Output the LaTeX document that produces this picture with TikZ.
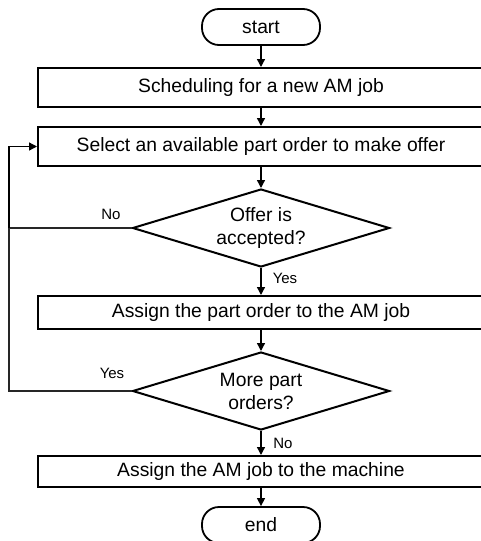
\documentclass[tikz,border=0pt]{standalone}
\usepackage{fontspec}
\setmainfont{Liberation Sans}
\usetikzlibrary{shapes.geometric,arrows.meta}
\begin{document}
\begin{tikzpicture}[x=1pt,y=-1pt,
  box/.style={draw,line width=2pt,rectangle,minimum width=446pt,inner sep=0pt,font=\fontsize{19.3}{22}\selectfont},
  term/.style={draw,line width=1.8pt,rectangle,rounded corners=17pt,minimum width=118pt,minimum height=36pt,inner sep=0pt,font=\fontsize{19.3}{22}\selectfont},
  dec/.style={draw,line width=2pt,diamond,aspect=3.3,minimum width=257pt,minimum height=78pt,inner sep=0pt,align=center,font=\fontsize{19.3}{23}\selectfont},
  conn/.style={line width=1.4pt,-{Triangle[length=8pt,width=8pt]}},
  loopline/.style={line width=1.3pt,draw=black!85},
  lbl/.style={font=\fontsize{15}{17}\selectfont,inner sep=0pt}]
\useasboundingbox (0,0) rectangle (480,541);
\node[term] (start) at (261,27) {start};
\node[box,minimum height=39pt] (sched) at (261,87.5) {Scheduling for a new AM job};
\node[box,minimum height=39pt] (select) at (261,146.5) {Select an available part order to make offer};
\node[dec] (dec1) at (261,228) {Offer is\\accepted?};
\node[box,minimum height=33pt] (assign1) at (261,312.5) {Assign the part order to the AM job};
\node[dec] (dec2) at (261,391) {More part\\orders?};
\node[box,minimum height=31pt] (assign2) at (261,471.5) {Assign the AM job to the machine};
\node[term] (end) at (261,525) {end};
\coordinate (c1) at (9,228);
\coordinate (c2) at (9,391);
\draw[conn] (start) -- (sched);
\draw[conn] (sched) -- (select);
\draw[conn] (select) -- (dec1);
\draw[conn] (dec1) -- (assign1);
\draw[conn] (assign1) -- (dec2);
\draw[conn] (dec2) -- (assign2);
\draw[conn] (assign2) -- (end);
\draw[loopline] (dec1.west) -- (c1);
\draw[loopline] (dec2.west) -- (c2) -- (c1);
\draw[conn,line width=1.3pt] (c1) |- (select.west);
\node[lbl] (no1) at (111,214) {No};
\node[lbl] (yes1) at (285,278) {Yes};
\node[lbl] (yes2) at (112,373) {Yes};
\node[lbl] (no2) at (283,443) {No};
\end{tikzpicture}
\end{document}
